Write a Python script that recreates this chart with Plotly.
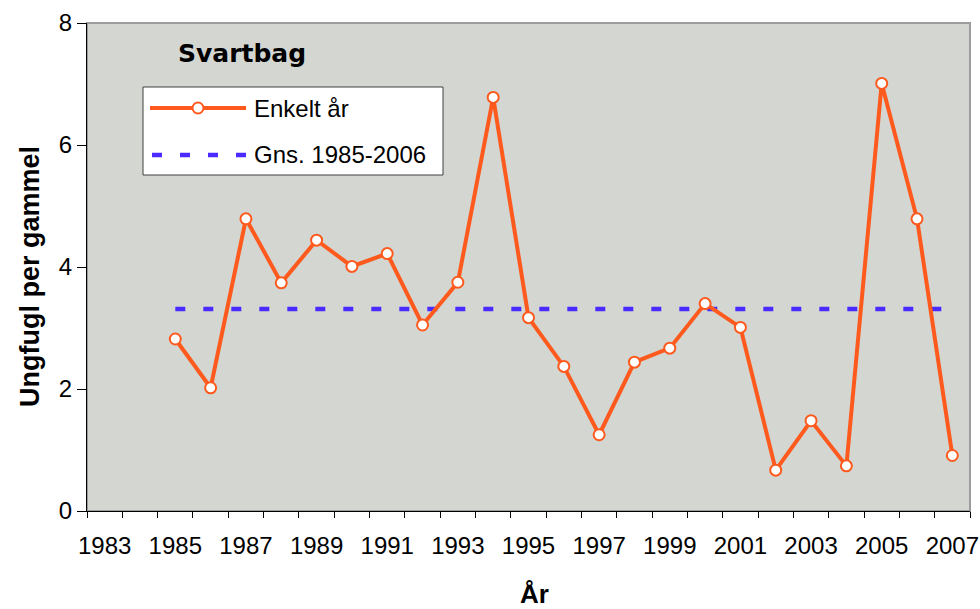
import plotly.graph_objects as go

years = list(range(1985, 2008))
values = [2.82, 2.02, 4.79, 3.74, 4.44, 4.01, 4.22, 3.05, 3.75, 6.78,
          3.17, 2.37, 1.25, 2.44, 2.67, 3.40, 3.01, 0.67, 1.48, 0.74,
          7.01, 4.79, 0.91]
mean_years = [1985, 2007]
mean_values = [3.31, 3.31]
x_tick_labels = [str(y) for y in range(1983, 2008, 2)]

ORANGE = "#FF5A1E"
BLUE = "#4A2BFF"
FONT = "Liberation Sans, Arial, sans-serif"

fig = go.Figure()
fig.add_trace(go.Scatter(
    x=mean_years, y=mean_values, mode="lines",
    line=dict(color=BLUE, width=4.5, dash="10px,18px"),
    name="Gns. 1985-2006", showlegend=False, hoverinfo="skip"))
fig.add_trace(go.Scatter(
    x=years, y=values, mode="lines+markers",
    line=dict(color=ORANGE, width=4),
    marker=dict(size=11, color="white", line=dict(color=ORANGE, width=2)),
    name="Enkelt år", showlegend=False))

# plot area in page pixels: x 87..970, y 23..511
def px(x):
    return (x - 87) / 883.0

def py(y):
    return (511 - y) / 488.0

shapes = [
    dict(type="rect", xref="paper", yref="paper", x0=0, x1=1, y0=0, y1=1,
         line=dict(color="#9C9C9C", width=2), layer="below"),
    dict(type="rect", xref="paper", yref="paper", x0=px(143), x1=px(443),
         y0=py(175), y1=py(87), fillcolor="white",
         line=dict(color="#404040", width=1)),
    dict(type="line", xref="paper", yref="paper", x0=px(150), x1=px(246),
         y0=py(108), y1=py(108), line=dict(color=ORANGE, width=4)),
    dict(type="circle", xref="paper", yref="paper", xsizemode="pixel",
         ysizemode="pixel", xanchor=px(198), yanchor=py(108),
         x0=-5.5, x1=5.5, y0=-5.5, y1=5.5, fillcolor="white",
         line=dict(color=ORANGE, width=2)),
    dict(type="line", xref="paper", yref="paper", x0=px(152), x1=px(246),
         y0=py(155), y1=py(155),
         line=dict(color=BLUE, width=4.5, dash="10px,18px")),
]

annotations = [
    dict(text="<b>Svartbag</b>", xref="paper", yref="paper", x=px(176),
         y=py(54), xanchor="left", yanchor="middle", showarrow=False,
         font=dict(family="DejaVu Sans, " + FONT, size=25, color="black")),
    dict(text="Enkelt år", xref="paper", yref="paper", x=px(252),
         y=py(108), xanchor="left", yanchor="middle", showarrow=False,
         font=dict(family=FONT, size=24, color="black")),
    dict(text="Gns. 1985-2006", xref="paper", yref="paper", x=px(252),
         y=py(155), xanchor="left", yanchor="middle", showarrow=False,
         font=dict(family=FONT, size=24, color="black")),
    dict(text="<b>Ungfugl per gammel</b>", xref="paper", yref="paper",
         x=(30 - 87) / 883.0, y=py(277), xanchor="center", yanchor="middle",
         textangle=-90, showarrow=False,
         font=dict(family=FONT, size=27, color="black")),
    dict(text="<b>År</b>", xref="paper", yref="paper",
         x=px(534), y=py(594), xanchor="center", yanchor="middle",
         showarrow=False, font=dict(family=FONT, size=26, color="black")),
]

fig.update_layout(
    width=980, height=609,
    margin=dict(l=87, r=10, t=23, b=98, autoexpand=False),
    paper_bgcolor="white", plot_bgcolor="#D4D6D2",
    font=dict(family=FONT, size=24, color="black"),
    shapes=shapes, annotations=annotations,
    showlegend=False,
    xaxis=dict(
        range=[1982.5, 2007.5], tickmode="array", automargin=False,
        tickvals=list(range(1983, 2008, 2)), ticktext=x_tick_labels,
        ticks="", showgrid=False, zeroline=False,
        showline=True, linecolor="black", linewidth=1,
        tickfont=dict(family=FONT, size=24, color="black"),
        ticklabelstandoff=13, ticklabeloverflow="allow",
        minor=dict(tickmode="linear", tick0=1982.5, dtick=1, ticks="outside",
                   ticklen=6, tickcolor="black", tickwidth=1, showgrid=False),
    ),
    yaxis=dict(
        range=[0, 8], tickmode="linear", tick0=0, dtick=2, automargin=False,
        ticks="outside", ticklen=9, tickcolor="black",
        showgrid=False, zeroline=False,
        showline=True, linecolor="black", linewidth=1,
        tickfont=dict(family=FONT, size=24, color="black"),
    ),
)

# remove the default 8px page margin so the 980x609 figure fills the window
fig.write_html("out.html",
               config={"displayModeBar": False},
               post_script="document.body.style.margin='0px';"
                           "document.body.style.overflow='hidden';")
